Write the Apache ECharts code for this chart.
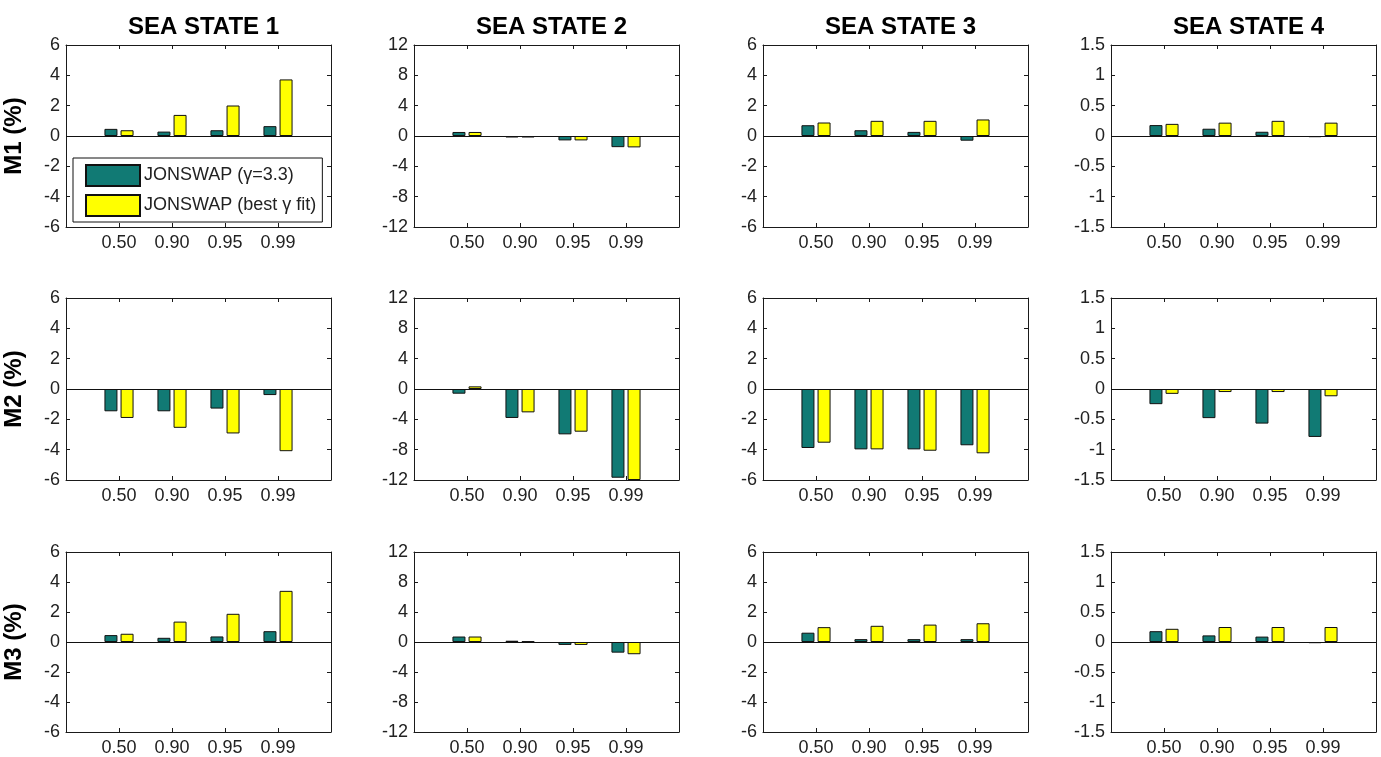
<!DOCTYPE html>
<html>
<head>
<meta charset="utf-8">
<script src="https://cdn.jsdelivr.net/npm/echarts@6/dist/echarts.min.js"></script>
<style>
  html, body { margin: 0; padding: 0; background: #fff; }
  #chart { width: 1381px; height: 757px; }
</style>
</head>
<body>
<div id="chart"></div>
<script>
// Quantile categories on the x axis of every panel
const quantiles = ['0.50', '0.90', '0.95', '0.99'];
const seaStates = ['SEA STATE 1', 'SEA STATE 2', 'SEA STATE 3', 'SEA STATE 4'];
const moments = ['M1 (%)', 'M2 (%)', 'M3 (%)'];
const seriesNames = ['JONSWAP (\u03b3=3.3)', 'JONSWAP (best \u03b3 fit)'];

// Symmetric y limits and tick step for each sea state column
const yLimits = [6, 12, 6, 1.5];
const yIntervals = [2, 4, 2, 0.5];

// Relative error (%) per sea state, one inner array per column, values per quantile
const m1Standard = [[0.47, 0.29, 0.38, 0.65], [0.53, -0.2, -0.58, -1.47], [0.71, 0.38, 0.27, -0.31], [0.18, 0.12, 0.07, -0.02]];
const m1BestFit  = [[0.38, 1.39, 2.01, 3.73], [0.53, -0.2, -0.58, -1.5], [0.89, 1.0, 1.0, 1.09], [0.2, 0.22, 0.25, 0.22]];
const m2Standard = [[-1.47, -1.47, -1.29, -0.4], [-0.62, -3.82, -5.98, -11.7], [-3.89, -3.98, -3.98, -3.71], [-0.25, -0.48, -0.57, -0.79]];
const m2BestFit  = [[-1.91, -2.56, -2.93, -4.1], [0.35, -3.08, -5.63, -12.0], [-3.54, -3.98, -4.07, -4.24], [-0.08, -0.05, -0.05, -0.12]];
const m3Standard = [[0.46, 0.28, 0.37, 0.72], [0.73, 0.17, -0.39, -1.42], [0.62, 0.19, 0.19, 0.19], [0.18, 0.11, 0.09, -0.02]];
const m3BestFit  = [[0.55, 1.36, 1.88, 3.41], [0.73, 0.09, -0.39, -1.63], [0.99, 1.08, 1.16, 1.25], [0.22, 0.25, 0.25, 0.25]];

const standardRows = [m1Standard, m2Standard, m3Standard];
const bestFitRows = [m1BestFit, m2BestFit, m3BestFit];

const colors = ['#117a74', '#ffff00'];
const FONT = 'Liberation Sans, Arial, Helvetica, sans-serif';
const lefts = [66, 414, 763, 1111];
const tops = [45, 298, 552];
const plotW = 265, plotH = 182;

// Empty slots on both ends leave room left and right of the bar groups
const axisCats = [''].concat(quantiles, ['']);
const pad = arr => [null].concat(arr, [null]);

const grids = [], xAxes = [], yAxes = [], series = [], titles = [];
const lineCol = '#1a1a1a';

seaStates.forEach((s, c) => {
  titles.push({
    text: s, left: lefts[c] + plotW / 2, top: 10, textAlign: 'center',
    textStyle: { fontFamily: FONT, fontSize: 24, fontWeight: 'bold', color: '#000' }
  });
});

moments.forEach((m, r) => {
  seaStates.forEach((s, c) => {
    const g = grids.length;
    grids.push({ left: lefts[c], top: tops[r], width: plotW, height: plotH });
    const tickShow = (i) => i > 0 && i < axisCats.length - 1;
    const xBase = {
      gridIndex: g, type: 'category', data: axisCats, boundaryGap: false,
      axisLine: { show: true, onZero: false, lineStyle: { color: lineCol, width: 1 } },
      axisTick: { show: true, inside: true, length: 4, interval: tickShow, lineStyle: { color: lineCol } },
      splitLine: { show: false }
    };
    xAxes.push(Object.assign({}, xBase, {
      position: 'bottom',
      axisLabel: { interval: 0, margin: 7, fontFamily: FONT, fontSize: 18, color: '#222' }
    }));
    xAxes.push(Object.assign({}, xBase, { position: 'top', axisLabel: { show: false } }));

    const yBase = {
      gridIndex: g, type: 'value', min: -yLimits[c], max: yLimits[c], interval: yIntervals[c],
      axisLine: { show: true, lineStyle: { color: lineCol, width: 1 } },
      axisTick: { show: true, inside: true, length: 4, lineStyle: { color: lineCol } },
      splitLine: { show: false }
    };
    const yLeft = Object.assign({}, yBase, {
      position: 'left',
      axisLabel: { margin: 6, fontFamily: FONT, fontSize: 18, color: '#222' }
    });
    if (c === 0) {
      Object.assign(yLeft, {
        name: m, nameLocation: 'middle', nameGap: 40, nameRotate: 90,
        nameTextStyle: { fontFamily: FONT, fontSize: 24, fontWeight: 'bold', color: '#000' }
      });
    }
    yAxes.push(yLeft);
    yAxes.push(Object.assign({}, yBase, { position: 'right', axisLabel: { show: false } }));

    const common = {
      type: 'bar', xAxisIndex: 2 * g, yAxisIndex: 2 * g, barWidth: 13, barGap: '24%',
      silent: true
    };
    series.push(Object.assign({}, common, {
      name: seriesNames[0], data: pad(standardRows[r][c]),
      itemStyle: { color: colors[0], borderColor: '#111', borderWidth: 1 },
      markLine: {
        silent: true, symbol: 'none', label: { show: false },
        lineStyle: { color: '#111', width: 1, type: 'solid' },
        data: [{ yAxis: 0 }], animation: false
      }
    }));
    series.push(Object.assign({}, common, {
      name: seriesNames[1], data: pad(bestFitRows[r][c]),
      itemStyle: { color: colors[1], borderColor: '#111', borderWidth: 1 }
    }));
  });
});

const chart = echarts.init(document.getElementById('chart'));
chart.setOption({
  backgroundColor: '#fff',
  animation: false,
  title: titles,
  grid: grids,
  xAxis: xAxes,
  yAxis: yAxes,
  legend: {
    data: seriesNames, orient: 'vertical', left: 73, top: 158,
    padding: [6, 6, 5, 12], itemGap: 7, itemWidth: 54, itemHeight: 21,
    icon: 'rect', selectedMode: false,
    backgroundColor: '#fff', borderColor: '#111', borderWidth: 1, borderRadius: 0,
    textStyle: { fontFamily: FONT, fontSize: 18, color: '#222', padding: [0, 0, 0, -1] }
  },
  series: series
});
</script>
</body>
</html>
